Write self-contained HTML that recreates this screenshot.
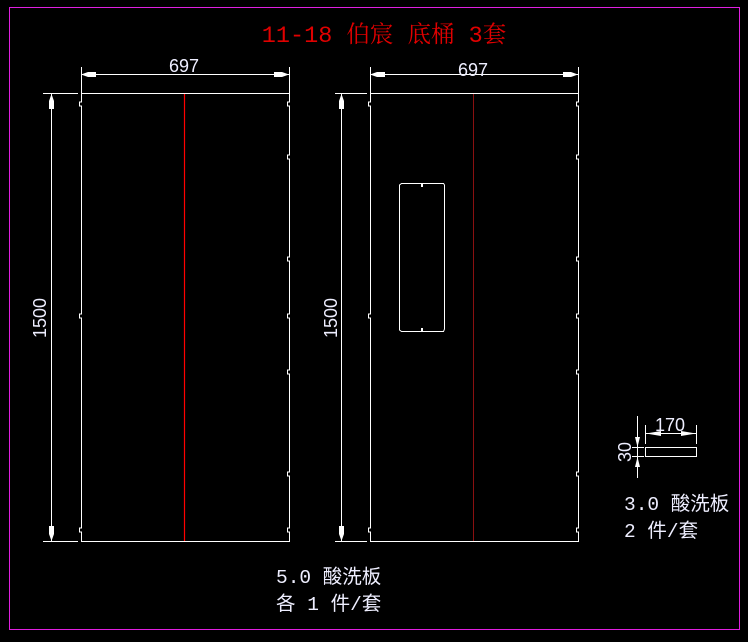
<!DOCTYPE html>
<html><head><meta charset="utf-8"><style>html,body{margin:0;padding:0;background:#000;}svg{display:block}</style></head>
<body>
<svg width="748" height="642" viewBox="0 0 748 642" xmlns="http://www.w3.org/2000/svg">
<rect x="0" y="0" width="748" height="642" fill="#000"/>
<rect x="9.5" y="7.5" width="730" height="622" fill="none" stroke="#e020e0" stroke-width="1"/>
<text x="384" y="42" fill="#e00000" font-family="'Liberation Mono', 'Noto Serif CJK SC', monospace" font-size="23.5" text-anchor="middle">11-18 伯宸 底桶 3套</text>
<g stroke="#fff" stroke-width="1" fill="none">
<path d="M81.5 93.5 H289.5 V102 H287.5 V106 H289.5 V155 H287.5 V159 H289.5 V257 H287.5 V261 H289.5 V314 H287.5 V318 H289.5 V370 H287.5 V374 H289.5 V472 H287.5 V476 H289.5 V528 H287.5 V532 H289.5 V541.5 H81.5 V532 H79.5 V528 H81.5 V318 H79.5 V314 H81.5 V106 H79.5 V102 H81.5 Z"/>
<path d="M370.5 93.5 H578.5 V102 H576.5 V106 H578.5 V155 H576.5 V159 H578.5 V257 H576.5 V261 H578.5 V314 H576.5 V318 H578.5 V370 H576.5 V374 H578.5 V472 H576.5 V476 H578.5 V528 H576.5 V532 H578.5 V541.5 H370.5 V532 H368.5 V528 H370.5 V318 H368.5 V314 H370.5 V106 H368.5 V102 H370.5 Z"/>
<path d="M401.5 183.5 H443.5 L444.5 185 V329 L443.5 331.5 H401.5 L399.5 330 V185 Z"/>
<path d="M81.5 67 V93 M289.5 67 V93 M81.5 74.5 H289.5"/>
<path d="M43 93.5 H78 M43 541.5 H78 M51.5 93.5 V541.5"/>
<path d="M370.5 67 V93 M578.5 67 V93 M370.5 74.5 H578.5"/>
<path d="M335 93.5 H367 M335 541.5 H367 M341.5 93.5 V541.5"/>
<rect x="645.5" y="447.5" width="51" height="9"/>
<path d="M645.5 425 V444 M696.5 425 V444 M645.5 433.5 H696.5"/>
<path d="M637.5 416 V478 M632 447.5 H644 M632 456.5 H644"/>
</g>
<g fill="#fff">
<path d="M81 74.5 L88 72 H96 V77 H88 Z"/><path d="M289 74.5 L282 72 H274 V77 H282 Z"/>
<path d="M370 74.5 L377 72 H385 V77 H377 Z"/><path d="M578 74.5 L571 72 H563 V77 H571 Z"/>
<path d="M51.5 94 L49 101 V109 H54 V101 Z"/><path d="M51.5 541 L49 534 V526 H54 V534 Z"/>
<path d="M341.5 94 L339 101 V109 H344 V101 Z"/><path d="M341.5 541 L339 534 V526 H344 V534 Z"/>
<path d="M646 433.5 L661 431 V436 Z"/><path d="M696 433.5 L681 431 V436 Z"/>
<path d="M637.5 447 L635 437 H640 Z"/><path d="M637.5 457 L635 467 H640 Z"/>
<rect x="421" y="184" width="2" height="3"/><rect x="421" y="328" width="2" height="3"/>
</g>
<line x1="184.5" y1="94" x2="184.5" y2="541" stroke="#ff0000" stroke-width="1.2"/>
<line x1="473.5" y1="94" x2="473.5" y2="541" stroke="#8a1010" stroke-width="1"/>
<g fill="#eef" font-family="Liberation Sans, sans-serif" font-size="18">
<text x="184" y="72" text-anchor="middle">697</text>
<text x="473" y="76" text-anchor="middle">697</text>
<text transform="translate(46 318) rotate(-90)" text-anchor="middle">1500</text>
<text transform="translate(337 318) rotate(-90)" text-anchor="middle">1500</text>
<text x="670" y="431" text-anchor="middle">170</text>
<text transform="translate(631 452) rotate(-90)" text-anchor="middle">30</text>
</g>
<g fill="#eef" font-family="Liberation Mono, 'Noto Sans CJK SC', monospace" font-size="19.5">
<text x="276" y="583">5.0 酸洗板</text>
<text x="276" y="610">各 1 件/套</text>
<text x="624" y="510">3.0 酸洗板</text>
<text x="624" y="537">2 件/套</text>
</g>
</svg>
</body></html>
